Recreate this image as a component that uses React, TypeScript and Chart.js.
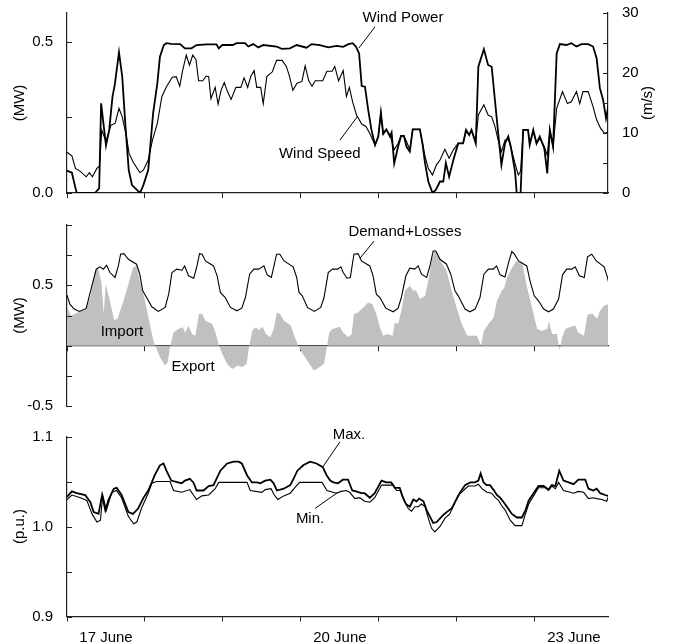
import React, { useEffect, useRef } from 'react';
import { Chart, registerables } from 'chart.js';

Chart.register(...registerables);

const FONT = '"Liberation Sans", Arial, Helvetica, sans-serif';
const AXIS = '#222';
const INK = '#000';
const FILL = '#c0c0c0';

// ---- x axis (hours from 17 June 00:00) ----
const X_MAX = 166.5;
const xTickHours = [0, 12, 24, 36, 48, 60, 72, 84, 96, 108, 120, 132, 144, 156];
const xTickMarks = [0, 24, 48, 72, 96, 120, 144];
const xLabelHours = [12, 84, 156];
const xLabelTexts = ['17 June', '20 June', '23 June'];

// ---- panel 1: wind power (MW) & wind speed (m/s) ----
const powerTicks = [0, 0.25, 0.5];
const powerLabels = ['0.0', '', '0.5'];
const speedTicks = [0, 5, 10, 15, 20, 25, 30];
const speedLabels = ['0', '', '10', '', '20', '', '30'];

const powerHours = [0, 1.5, 2.5, 3, 8.6, 9.9, 10.5, 12, 13, 14, 14.7, 16, 17, 18, 19, 20, 22.5, 23.5, 25, 26.5, 27.8, 28.6, 29.8, 30.6, 32, 34.8, 36.3, 38.3, 39.9, 43, 46, 46.7, 47.8, 51, 52.2, 54.8, 55.8, 57.3, 58.9, 60.4, 64.5, 66.1, 68.6, 70.7, 73.7, 75.3, 77.8, 80.4, 83, 85, 86.6, 87.9, 88.9, 89.9, 90.7, 91.7, 92.7, 93.7, 94.8, 95.8, 96.6, 97.3, 98.3, 99.4, 99.9, 100.7, 101.9, 102.8, 103.7, 104.5, 105.5, 106.4, 108.6, 109.4, 110.2, 111.2, 112.5, 113.5, 114.8, 115.8, 116.6, 117.6, 118.9, 120.4, 121.9, 122.8, 123.8, 124.5, 125.8, 126.6, 128.3, 129.6, 130.7, 131.7, 132.7, 133.7, 134.8, 135.8, 136.6, 137.9, 138.4, 139.6, 140.4, 141.9, 142.4, 143.5, 144.5, 145.5, 146.9, 147.8, 148.6, 149.6, 150.7, 151.7, 153.7, 155.2, 156.8, 158.3, 160.4, 161.9, 163, 164, 165, 165.9, 166.8];
const powerMW = [0.074, 0.067, 0.021, 0, 0, 0.015, 0.297, 0.157, 0.209, 0.319, 0.358, 0.466, 0.385, 0.22, 0.076, 0.026, 0, 0.026, 0.076, 0.264, 0.363, 0.451, 0.49, 0.496, 0.494, 0.493, 0.479, 0.479, 0.49, 0.492, 0.492, 0.479, 0.49, 0.49, 0.496, 0.496, 0.485, 0.493, 0.482, 0.49, 0.485, 0.477, 0.479, 0.49, 0.481, 0.493, 0.49, 0.482, 0.487, 0.484, 0.493, 0.496, 0.485, 0.462, 0.354, 0.352, 0.275, 0.209, 0.159, 0.187, 0.266, 0.198, 0.211, 0.187, 0.2, 0.098, 0.153, 0.189, 0.189, 0.153, 0.137, 0.211, 0.211, 0.164, 0.098, 0.038, 0, 0.01, 0.038, 0.038, 0.099, 0.054, 0.109, 0.164, 0.164, 0.209, 0.192, 0.209, 0.164, 0.418, 0.476, 0.424, 0.418, 0.308, 0.198, 0.093, 0.164, 0.187, 0.153, 0.071, 0, 0, 0.209, 0.209, 0.159, 0.209, 0.164, 0.187, 0.148, 0.065, 0.209, 0.153, 0.462, 0.493, 0.49, 0.496, 0.485, 0.493, 0.493, 0.485, 0.446, 0.347, 0.308, 0.247, 0.297];

const speedHours = [0, 1.5, 2.6, 4.1, 5.9, 6.9, 7.8, 9.2, 10, 10.7, 12, 13.5, 14.8, 16, 17, 18.3, 19.1, 20.3, 22.4, 23.5, 25, 26.3, 27.8, 29.2, 30.6, 32.4, 33.6, 34.7, 35.5, 36.7, 37.7, 38.7, 39.7, 40.5, 41.8, 42.8, 43.6, 44.3, 45.6, 46.5, 47.4, 48.4, 49.4, 50.5, 52, 53.5, 54.5, 55.6, 56.6, 57.6, 58.4, 59.6, 60.4, 61.5, 63.2, 64.5, 66.2, 67.5, 68.5, 69.5, 70.8, 72.3, 73.3, 74.4, 75.4, 76.4, 78.7, 80, 81.6, 82.4, 83.6, 85, 86, 86.9, 87.9, 89.1, 90.7, 92, 93.2, 94.8, 95.8, 96.6, 97.3, 98.3, 99.4, 100.7, 101.9, 102.8, 103.7, 104.5, 105.5, 106.4, 108.6, 109.4, 110.2, 111.2, 112.5, 113.7, 114.8, 116.3, 117.6, 118.9, 120.4, 121.9, 122.8, 123.8, 124.5, 125.8, 126.6, 128.3, 129.6, 130.7, 131.7, 132.7, 133.7, 134.8, 135.8, 136.8, 137.9, 138.9, 139.6, 140.4, 141.9, 142.4, 143.5, 144.5, 145.5, 146.9, 147.8, 148.6, 149.6, 150.7, 152.5, 154, 155.2, 156.8, 157.8, 158.8, 160.4, 161.9, 163, 164.2, 165.5, 166.5];
const speedMS = [6.8, 6.2, 4.1, 3.6, 2.7, 3.4, 2.7, 4.1, 4.5, 10.5, 8.6, 11.3, 11.6, 14.1, 12.7, 9.4, 6.6, 5.2, 3.4, 3.8, 5.5, 8.8, 11.6, 16.1, 17.7, 19.3, 19.4, 17.8, 20.2, 23, 21.3, 23, 22.2, 18.7, 18.7, 19.5, 19.4, 15.7, 17.6, 14.8, 17.1, 18.4, 16.9, 15.6, 17.6, 17.6, 19.2, 17.6, 19.5, 20.4, 17.6, 17.6, 14.9, 19.4, 20.2, 22.1, 22.1, 21.1, 19.4, 17.1, 18.3, 18.6, 21.2, 18.7, 17.8, 18.7, 18.7, 20.3, 20.3, 21.1, 18.7, 20.4, 16.1, 17.6, 15.2, 13, 11.5, 11.1, 9.9, 8, 9.4, 13.4, 9.7, 10.5, 9.7, 7.2, 8.3, 9.5, 9.4, 8.6, 7.2, 10.6, 10.6, 8.3, 6.1, 4.1, 3, 4.7, 5.5, 7.3, 5.8, 7.2, 8.3, 8.3, 10.2, 9.7, 10.4, 8.6, 13, 14.7, 13, 12.7, 11.1, 8.8, 6.9, 8.8, 9.1, 7.2, 4.9, 3, 3.6, 10.5, 10.5, 8.3, 10.2, 8.3, 9.1, 7.7, 6.3, 10.5, 7.7, 14.1, 16.9, 14.9, 15.2, 16.9, 14.9, 16.9, 16.9, 14.4, 12.2, 10.8, 9.9, 10.2];

// ---- panel 2: demand + losses and net import (MW) ----
const flowTicks = [-0.5, -0.25, 0, 0.25, 0.5, 0.75, 1.0];
const flowLabels = ['-0.5', '', '', '', '0.5', '', ''];

const demandHours = [0, 0.9, 2.2, 3.8, 5.9, 7.4, 9, 10.1, 11.2, 12.2, 13.2, 14.8, 15.8, 16.5, 17.5, 18.9, 21.4, 22.4, 23.3, 24.5, 26.1, 28.1, 30.2, 31.3, 32.3, 33.8, 35.4, 36.2, 37.4, 39, 40, 40.8, 41.6, 42.6, 45.1, 46.2, 47.2, 48.7, 50.3, 52.3, 53.8, 54.9, 56.2, 57.5, 59, 60.6, 61.6, 62.9, 63.7, 64.5, 65.5, 66.8, 69.6, 70.7, 71.4, 72.4, 74, 76.1, 78.1, 79.1, 80.4, 81.7, 83.3, 84.3, 85, 86.2, 87.2, 88.3, 89.6, 90.6, 93.2, 94.2, 95.2, 96.3, 98.1, 100.4, 101.9, 102.9, 104.3, 105.5, 107, 108.1, 109.1, 110.7, 111.7, 112.7, 113.5, 114.8, 116.8, 118.1, 119.4, 120.4, 122.5, 124, 125.6, 127.1, 128.3, 129.7, 131.2, 132.2, 133.3, 134.8, 135.9, 136.9, 137.6, 139, 141.5, 142.5, 143.8, 145.1, 146.7, 148.2, 149.7, 151.3, 152.5, 153.8, 155.4, 156.4, 157.7, 159.2, 160.2, 161.5, 162.9, 165.3, 166.3, 167.5];
const demandMW = [0.419, 0.344, 0.303, 0.284, 0.309, 0.468, 0.634, 0.653, 0.634, 0.667, 0.606, 0.565, 0.661, 0.758, 0.763, 0.716, 0.675, 0.592, 0.455, 0.399, 0.322, 0.284, 0.317, 0.427, 0.606, 0.634, 0.625, 0.661, 0.579, 0.559, 0.661, 0.763, 0.758, 0.702, 0.661, 0.579, 0.441, 0.399, 0.317, 0.289, 0.311, 0.399, 0.592, 0.634, 0.634, 0.661, 0.587, 0.565, 0.661, 0.758, 0.758, 0.702, 0.653, 0.565, 0.441, 0.413, 0.317, 0.284, 0.317, 0.399, 0.606, 0.634, 0.634, 0.653, 0.606, 0.559, 0.565, 0.758, 0.763, 0.702, 0.661, 0.579, 0.427, 0.399, 0.311, 0.281, 0.311, 0.399, 0.579, 0.642, 0.634, 0.661, 0.592, 0.565, 0.661, 0.785, 0.785, 0.716, 0.675, 0.592, 0.455, 0.413, 0.303, 0.281, 0.303, 0.399, 0.592, 0.634, 0.634, 0.661, 0.587, 0.57, 0.689, 0.78, 0.763, 0.702, 0.661, 0.537, 0.413, 0.372, 0.303, 0.281, 0.303, 0.386, 0.587, 0.634, 0.634, 0.653, 0.579, 0.565, 0.736, 0.758, 0.702, 0.653, 0.57, 0.427];

const netHours = [0, 1.2, 3.3, 5.9, 7.4, 8.5, 9.5, 10.6, 11.3, 11.9, 13.2, 14.5, 15.5, 17.4, 18.9, 20.3, 21.4, 22.4, 24, 25.5, 26.6, 27.6, 28.6, 30.2, 31, 31.7, 32.8, 34.3, 35.6, 36.4, 37.4, 38.5, 39.5, 40.6, 41.6, 42.6, 44.7, 45.7, 46.8, 47.8, 49.3, 50.8, 52.6, 53.9, 55.3, 56, 57, 58.1, 59.1, 60.2, 61.2, 62.6, 63.6, 64.6, 65.6, 66.8, 68.9, 70.1, 71.4, 72.6, 74, 76, 77.6, 79.1, 80, 80.7, 81.7, 84, 85, 86.6, 87.6, 88.3, 89.6, 91.2, 92.7, 94, 95.2, 96.3, 97.3, 98.6, 100.2, 100.9, 101.9, 102.9, 104, 105.5, 106.6, 107.4, 108.6, 110.2, 111.2, 112.2, 113.2, 115.3, 116.8, 118.4, 119.9, 121.5, 123.2, 126.2, 127.4, 128.3, 129.7, 131.3, 132.3, 133.8, 134.6, 135.4, 137, 138.3, 140.1, 141.6, 143.1, 144.7, 146.2, 147.8, 148.3, 149.3, 150.8, 151.6, 152.4, 153.4, 155, 156.5, 157.3, 159.1, 160.2, 161.7, 163.2, 164, 165.3, 166.5, 167.3, 167.6];
const netMW = [0.331, 0.248, 0.275, 0.303, 0.427, 0.606, 0.647, 0.523, 0.262, 0.51, 0.372, 0.212, 0.22, 0.372, 0.51, 0.647, 0.661, 0.537, 0.372, 0.179, 0.041, -0.028, -0.096, -0.165, -0.138, -0.014, 0.11, 0.138, 0.152, 0.11, 0.165, 0.096, 0.083, 0.262, 0.262, 0.207, 0.179, 0.11, 0, -0.069, -0.152, -0.193, -0.165, -0.179, -0.152, -0.014, 0.124, 0.152, 0.129, 0.157, 0.096, 0.069, 0.138, 0.275, 0.262, 0.207, 0.165, 0.069, -0.014, -0.069, -0.124, -0.207, -0.179, -0.152, -0.014, 0.11, 0.138, 0.157, 0.11, 0.069, 0.096, 0.262, 0.275, 0.317, 0.358, 0.344, 0.262, 0.152, 0.083, 0.096, 0.083, 0.193, 0.179, 0.289, 0.455, 0.496, 0.455, 0.46, 0.386, 0.413, 0.537, 0.702, 0.791, 0.689, 0.62, 0.455, 0.317, 0.179, 0.083, 0.083, 0, 0.124, 0.179, 0.234, 0.372, 0.455, 0.482, 0.565, 0.647, 0.702, 0.689, 0.482, 0.317, 0.138, 0.124, 0.138, 0.207, 0.096, 0.096, -0.041, 0.069, 0.138, 0.157, 0.165, 0.11, 0.083, 0.256, 0.267, 0.22, 0.289, 0.331, 0.344, 0.138, 0];

// ---- panel 3: voltage (p.u.) ----
const voltTicks = [0.9, 0.95, 1.0, 1.05, 1.1];
const voltLabels = ['0.9', '', '1.0', '', '1.1'];

const maxHours = [0, 1.5, 3, 5.6, 7.2, 8.2, 9.7, 10.8, 11.8, 12.8, 14.4, 15.3, 16.8, 18.9, 20.3, 21.9, 23.4, 25, 26.1, 27, 28.6, 29.7, 30.6, 32.1, 34.2, 35.3, 36.3, 37.8, 38.9, 39.9, 42, 43.6, 45.1, 47.2, 49.3, 51.3, 52.8, 53.8, 55.4, 56.9, 58.5, 59.5, 61, 62.6, 63.6, 64.6, 66.7, 68.7, 69.7, 70.9, 72.7, 74.8, 76.8, 78.7, 79.9, 81, 82, 83.4, 84.9, 86.5, 87.8, 89, 90.6, 91.6, 93.2, 94.7, 96.8, 98.3, 99.8, 100.9, 102.4, 103.2, 104.3, 105.5, 106.6, 107.6, 108.4, 109.7, 110.7, 111.7, 112.7, 113.8, 115.3, 116.8, 118.4, 119.4, 121, 122.5, 124.1, 125.6, 126.6, 127.3, 128.2, 129.2, 130.2, 131.2, 132.3, 133.3, 134.4, 135.4, 136.9, 138.5, 140, 141.1, 142.1, 143.6, 145.1, 146.7, 148.2, 149.2, 150.3, 151.5, 152.8, 154.4, 155.9, 157.4, 159.5, 160.5, 162, 163, 164.1, 165.6, 166.6, 167.6];
const maxPU = [1.033, 1.039, 1.037, 1.035, 1.027, 1.016, 1.014, 1.035, 1.018, 1.03, 1.042, 1.043, 1.035, 1.016, 1.014, 1.02, 1.031, 1.04, 1.049, 1.057, 1.068, 1.07, 1.062, 1.051, 1.049, 1.048, 1.051, 1.053, 1.049, 1.04, 1.04, 1.045, 1.046, 1.062, 1.07, 1.072, 1.072, 1.07, 1.057, 1.049, 1.049, 1.048, 1.051, 1.052, 1.048, 1.04, 1.042, 1.046, 1.053, 1.062, 1.068, 1.072, 1.07, 1.066, 1.057, 1.051, 1.049, 1.048, 1.052, 1.052, 1.04, 1.039, 1.037, 1.037, 1.032, 1.037, 1.051, 1.049, 1.049, 1.043, 1.043, 1.034, 1.025, 1.022, 1.03, 1.028, 1.031, 1.028, 1.018, 1.011, 1.004, 1.005, 1.011, 1.016, 1.02, 1.027, 1.038, 1.046, 1.049, 1.049, 1.051, 1.059, 1.049, 1.046, 1.046, 1.041, 1.035, 1.032, 1.027, 1.022, 1.014, 1.01, 1.01, 1.018, 1.029, 1.037, 1.045, 1.045, 1.041, 1.046, 1.045, 1.062, 1.051, 1.049, 1.047, 1.052, 1.052, 1.042, 1.04, 1.042, 1.037, 1.035, 1.034, 1.047];

const minHours = [0, 1.5, 4.1, 6.1, 7.7, 9.2, 10.3, 11, 12.1, 13.8, 15.2, 16.8, 18.9, 20.5, 21.5, 22.9, 25, 26.1, 27.6, 31.7, 32.8, 35.3, 37.8, 38.9, 39.9, 41.5, 43.6, 45.6, 46.7, 55.4, 56.4, 60, 61, 62.8, 63.8, 64.9, 66.7, 68.7, 70.3, 71.6, 78.5, 80, 82.9, 84.4, 86, 87, 88.6, 90.1, 91.6, 93.2, 94.7, 96.8, 100.4, 101.4, 102.6, 103.6, 105, 106, 107.1, 108.1, 109.1, 110.2, 111.2, 112.2, 113.2, 114.8, 116.3, 117.8, 119.1, 120.4, 122, 123.5, 125.6, 126.6, 127.7, 129.2, 130.7, 131.8, 132.8, 133.8, 134.9, 136.4, 137.9, 140, 141.1, 142.1, 143.6, 145.1, 147.2, 148.2, 149.2, 150.3, 151.3, 152.8, 154.9, 155.9, 157.4, 159, 160.5, 162, 163, 164.6, 166.1, 167.1];
const minPU = [1.03, 1.035, 1.032, 1.029, 1.014, 1.005, 1.007, 1.035, 1.018, 1.038, 1.04, 1.032, 1.011, 1.003, 1.005, 1.02, 1.037, 1.048, 1.05, 1.05, 1.04, 1.038, 1.041, 1.035, 1.03, 1.034, 1.035, 1.042, 1.049, 1.049, 1.04, 1.038, 1.041, 1.042, 1.035, 1.03, 1.034, 1.037, 1.044, 1.049, 1.049, 1.04, 1.037, 1.039, 1.04, 1.038, 1.031, 1.032, 1.028, 1.027, 1.032, 1.046, 1.046, 1.04, 1.04, 1.03, 1.02, 1.017, 1.022, 1.022, 1.025, 1.022, 1.009, 0.998, 0.994, 1.0, 1.009, 1.014, 1.024, 1.035, 1.04, 1.045, 1.045, 1.047, 1.042, 1.038, 1.037, 1.032, 1.029, 1.023, 1.018, 1.007, 1.001, 1.001, 1.014, 1.025, 1.034, 1.043, 1.043, 1.04, 1.045, 1.042, 1.049, 1.04, 1.038, 1.037, 1.039, 1.038, 1.031, 1.032, 1.031, 1.03, 1.028, 1.038];

// ---- annotations (data units: hour, value on the left axis) ----
type Note = { text: string; x: number; y: number; line?: [number, number, number, number] };
const notesTop: Note[] = [
  { text: 'Wind Power', x: 103.4, y: 0.579, line: [94.8, 0.55, 89.8, 0.48] },
  { text: 'Wind Speed', x: 77.8, y: 0.129, line: [84, 0.175, 89.5, 0.255] },
];
const notesMid: Note[] = [
  { text: 'Demand+Losses', x: 104, y: 0.942, line: [94.5, 0.867, 90.2, 0.725] },
  { text: 'Import', x: 16.9, y: 0.117 },
  { text: 'Export', x: 38.8, y: -0.175 },
];
const notesBot: Note[] = [
  { text: 'Max.', x: 86.8, y: 1.102, line: [84, 1.094, 78.5, 1.065] },
  { text: 'Min.', x: 74.8, y: 1.009, line: [76.3, 1.02, 83.4, 1.038] },
];

const pts = (xs: number[], ys: number[]) => xs.map((x, i) => ({ x, y: ys[i] }));

// draws inward-pointing y tick marks, annotations and the right-hand axis title
const notesPlugin = {
  id: 'notes',
  afterDatasetsDraw(chart: any, _args: any, opts: any) {
    const ctx = chart.ctx;
    const xs = chart.scales.x;
    const ys = chart.scales.y;
    ctx.save();
    ctx.strokeStyle = AXIS;
    ctx.lineWidth = 1;
    Object.values(chart.scales).forEach((s: any) => {
      if (s.axis !== 'y') return;
      const left = s.position === 'left';
      const x0 = left ? s.right : s.left;
      const dir = left ? 1 : -1;
      s.ticks.forEach((t: any) => {
        const y = Math.round(s.getPixelForValue(t.value)) + 0.5;
        ctx.beginPath();
        ctx.moveTo(x0, y);
        ctx.lineTo(x0 + dir * 5, y);
        ctx.stroke();
      });
    });
    ctx.font = `15px ${FONT}`;
    ctx.fillStyle = INK;
    ctx.strokeStyle = INK;
    ctx.textAlign = 'center';
    ctx.textBaseline = 'middle';
    (opts.items || []).forEach((n: Note) => {
      ctx.fillText(n.text, xs.getPixelForValue(n.x), ys.getPixelForValue(n.y));
      if (n.line) {
        ctx.beginPath();
        ctx.moveTo(xs.getPixelForValue(n.line[0]), ys.getPixelForValue(n.line[1]));
        ctx.lineTo(xs.getPixelForValue(n.line[2]), ys.getPixelForValue(n.line[3]));
        ctx.stroke();
      }
    });
    if (opts.rightTitle && chart.scales.y2) {
      const s = chart.scales.y2;
      ctx.translate(s.right - 25, (chart.chartArea.top + chart.chartArea.bottom) / 2);
      ctx.rotate(-Math.PI / 2);
      ctx.fillText(opts.rightTitle, 0, 0);
    }
    ctx.restore();
  },
};

const tickFont = { family: FONT, size: 15 };

function xAxis(showLabels: boolean, position: any, height: number, padding: number) {
  return {
    type: 'linear',
    min: 0,
    max: X_MAX,
    position,
    afterBuildTicks: (s: any) => {
      s.ticks = xTickHours.map((v) => ({ value: v }));
    },
    afterFit: (s: any) => {
      s.height = height;
    },
    border: { display: true, color: AXIS, width: 1.2 },
    grid: {
      drawOnChartArea: false,
      drawTicks: true,
      tickLength: 5,
      tickWidth: 1,
      tickColor: (c: any) => (c.tick && xTickMarks.includes(c.tick.value) ? AXIS : 'rgba(0,0,0,0)'),
    },
    ticks: {
      display: showLabels,
      autoSkip: false,
      maxRotation: 0,
      padding,
      color: INK,
      font: tickFont,
      callback: (v: number) => {
        const i = xLabelHours.indexOf(v);
        return i >= 0 ? xLabelTexts[i] : '';
      },
    },
  };
}

function yAxis(position: 'left' | 'right', min: number, max: number, ticks: number[], labels: string[], title?: string) {
  return {
    type: 'linear',
    position,
    min,
    max,
    afterBuildTicks: (s: any) => {
      s.ticks = ticks.map((v) => ({ value: v }));
    },
    afterFit: (s: any) => {
      s.width = position === 'left' ? 67 : 65;
    },
    border: { display: true, color: AXIS, width: 1.2 },
    // invisible outward tick space only sets the label gap; visible ticks point inward (plugin)
    grid: { drawOnChartArea: false, drawTicks: true, tickLength: 14, tickColor: 'rgba(0,0,0,0)' },
    ticks: {
      padding: 0,
      color: INK,
      font: tickFont,
      callback: (v: number) => {
        const i = ticks.findIndex((t) => Math.abs(t - v) < 1e-9);
        return i >= 0 ? labels[i] : '';
      },
    },
    title: title
      ? { display: true, text: title, color: INK, font: tickFont, padding: { top: 11, bottom: 0 } }
      : { display: false },
  };
}

const baseOpts = (padding: any, notes: Note[], rightTitle?: string) => ({
  responsive: false,
  animation: false,
  events: [],
  layout: { padding },
  plugins: {
    legend: { display: false },
    tooltip: { enabled: false },
    notes: { items: notes, rightTitle },
  },
});

function lineDs(data: any, width: number, extra: any = {}) {
  return {
    data,
    borderColor: INK,
    borderWidth: width,
    pointRadius: 0,
    tension: 0,
    fill: false,
    ...extra,
  };
}

export default function App() {
  const c1 = useRef<HTMLCanvasElement>(null);
  const c2 = useRef<HTMLCanvasElement>(null);
  const c3 = useRef<HTMLCanvasElement>(null);

  useEffect(() => {
    const ch1 = new Chart(c1.current as HTMLCanvasElement, {
      type: 'line',
      data: {
        datasets: [
          lineDs(pts(powerHours, powerMW), 1.8, { yAxisID: 'y' }),
          lineDs(pts(speedHours, speedMS), 1.1, { yAxisID: 'y2' }),
        ],
      },
      options: {
        ...baseOpts({ top: 13, left: 0, right: 0, bottom: 0 }, notesTop, '(m/s)'),
        scales: {
          x: xAxis(false, 'bottom', 17, 0),
          y: yAxis('left', 0, 0.596, powerTicks, powerLabels, '(MW)'),
          y2: yAxis('right', 0, 30, speedTicks, speedLabels),
        },
      } as any,
      plugins: [notesPlugin as any],
    });

    const ch2 = new Chart(c2.current as HTMLCanvasElement, {
      type: 'line',
      data: {
        datasets: [
          lineDs(pts(demandHours, demandMW), 1.1, { order: 1 }),
          lineDs(pts(netHours, netMW), 0, { order: 2, fill: 'origin', backgroundColor: FILL, borderColor: 'rgba(0,0,0,0)' }),
        ],
      },
      options: {
        ...baseOpts({ top: 15, left: 0, right: 65, bottom: 0 }, notesMid),
        scales: {
          x: xAxis(false, { y: 0 }, 10, 0),
          y: yAxis('left', -0.5, 1.0, flowTicks, flowLabels, '(MW)'),
        },
      } as any,
      plugins: [notesPlugin as any],
    });

    const ch3 = new Chart(c3.current as HTMLCanvasElement, {
      type: 'line',
      data: {
        datasets: [lineDs(pts(maxHours, maxPU), 1.8), lineDs(pts(minHours, minPU), 1.1)],
      },
      options: {
        ...baseOpts({ top: 16.5, left: 0, right: 65, bottom: 0 }, notesBot),
        scales: {
          x: xAxis(true, 'bottom', 27.5, 7),
          y: yAxis('left', 0.9, 1.1, voltTicks, voltLabels, '(p.u.)'),
        },
      } as any,
      plugins: [notesPlugin as any],
    });

    return () => {
      ch1.destroy();
      ch2.destroy();
      ch3.destroy();
    };
  }, []);

  const abs = (top: number, h: number): React.CSSProperties => ({
    position: 'absolute',
    left: 0,
    top,
    width: 673,
    height: h,
  });

  return (
    <div style={{ position: 'fixed', left: 0, top: 0, width: 673, height: 644, overflow: 'hidden', background: '#fff' }}>
      <div style={abs(0, 210)}>
        <canvas ref={c1} width={673} height={210} style={{ width: 673, height: 210, display: 'block' }} />
      </div>
      <div style={abs(210, 205)}>
        <canvas ref={c2} width={673} height={205} style={{ width: 673, height: 205, display: 'block' }} />
      </div>
      <div style={abs(420, 224)}>
        <canvas ref={c3} width={673} height={224} style={{ width: 673, height: 224, display: 'block' }} />
      </div>
    </div>
  );
}
